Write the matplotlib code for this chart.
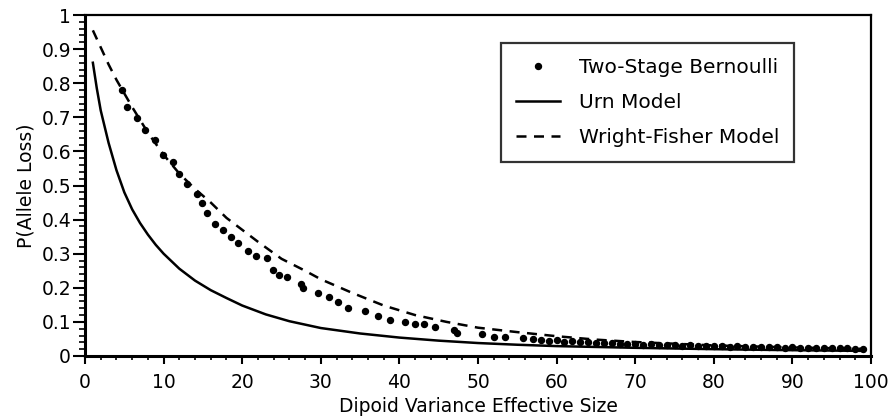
import matplotlib
matplotlib.use("Agg")
import matplotlib.pyplot as plt
from matplotlib.ticker import MultipleLocator

# Two-Stage Bernoulli simulation (dots)
bern_x = [4.7, 5.4, 6.6, 7.6, 8.9, 9.9, 11.2, 12.0, 13.0, 14.2, 14.9, 15.5, 16.6, 17.6,
          18.6, 19.5, 20.7, 21.8, 23.1, 23.9, 24.7, 25.7, 27.5, 27.7, 29.7, 31.0, 32.2,
          33.5, 35.6, 37.3, 38.8, 40.7, 42.0, 43.1, 44.5, 46.9, 47.3, 50.5, 52.0, 53.4,
          55.7, 57, 58, 59, 60, 61, 62, 63, 64, 65, 66, 67, 68, 69, 70, 71, 72, 73, 74,
          75, 76, 77, 78, 79, 80, 81, 82, 83, 84, 85, 86, 87, 88, 89, 90, 91, 92, 93,
          94, 95, 96, 97, 98, 99]
bern_y = [0.78, 0.73, 0.697, 0.663, 0.633, 0.59, 0.568, 0.533, 0.505, 0.475, 0.448, 0.42,
          0.387, 0.37, 0.348, 0.331, 0.309, 0.294, 0.286, 0.252, 0.238, 0.231, 0.212,
          0.198, 0.185, 0.174, 0.159, 0.141, 0.133, 0.117, 0.107, 0.100, 0.094, 0.093,
          0.084, 0.077, 0.068, 0.064, 0.057, 0.057, 0.053, 0.049, 0.047, 0.045, 0.046,
          0.042, 0.043, 0.040, 0.041, 0.038, 0.037, 0.039, 0.035, 0.036, 0.034, 0.033,
          0.034, 0.032, 0.031, 0.032, 0.030, 0.031, 0.029, 0.030, 0.028, 0.029, 0.027,
          0.028, 0.026, 0.027, 0.026, 0.025, 0.026, 0.024, 0.025, 0.024, 0.023, 0.024,
          0.022, 0.023, 0.022, 0.024, 0.021, 0.020]

# Urn model (solid)
urn_x = [1, 1.5, 2, 3, 4, 5, 6, 7, 8, 9, 10, 12, 14, 16, 18, 20, 23, 26, 30, 35, 40,
         45, 50, 55, 60, 70, 80, 90, 99]
urn_y = [0.86, 0.785, 0.72, 0.625, 0.545, 0.48, 0.43, 0.39, 0.356, 0.326, 0.30, 0.256,
         0.221, 0.193, 0.170, 0.148, 0.122, 0.102, 0.082, 0.066, 0.054, 0.045, 0.038,
         0.033, 0.029, 0.024, 0.020, 0.017, 0.015]

# Wright-Fisher model (dashed)
wf_x = [1, 2, 3, 4, 5, 6, 8, 10, 12, 14, 16, 18, 20, 22, 25, 28, 30, 34, 38, 42, 46,
        50, 55, 60, 65, 70, 80, 90, 99]
wf_y = [0.955, 0.905, 0.855, 0.81, 0.77, 0.73, 0.655, 0.59, 0.535, 0.49, 0.45, 0.405,
        0.37, 0.335, 0.285, 0.25, 0.225, 0.185, 0.148, 0.12, 0.10, 0.083, 0.07, 0.058,
        0.048, 0.041, 0.031, 0.025, 0.021]

fig = plt.figure(figsize=(8.92, 4.17), dpi=100)
ax = fig.add_axes([0.0953, 0.1463, 0.8812, 0.8177])

ax.plot(bern_x, bern_y, 'o', color='black', markersize=4.3, label='Two-Stage Bernoulli')
ax.plot(urn_x, urn_y, '-', color='black', lw=1.8, label='Urn Model')
ax.plot(wf_x, wf_y, '--', color='black', lw=1.8, dashes=(4, 3), label='Wright-Fisher Model')

ax.set_xlim(0, 100)
ax.set_ylim(0, 1)
ax.xaxis.set_major_locator(MultipleLocator(10))
ax.xaxis.set_minor_locator(MultipleLocator(2))
ax.yaxis.set_minor_locator(MultipleLocator(0.02))
ax.set_yticks([0, 0.1, 0.2, 0.3, 0.4, 0.5, 0.6, 0.7, 0.8, 0.9, 1])
ax.set_yticklabels(['0', '0.1', '0.2', '0.3', '0.4', '0.5', '0.6', '0.7', '0.8', '0.9', '1'])

ax.tick_params(axis='y', which='major', length=9, width=1.5, pad=1, labelsize=13.5)
ax.tick_params(axis='y', which='minor', length=4, width=1.2)
ax.tick_params(axis='x', which='major', length=6, width=1.5, pad=6, labelsize=13.5)
ax.tick_params(axis='x', which='minor', length=3, width=1.2)

for side in ['left', 'bottom']:
    ax.spines[side].set_linewidth(2.2)
for side in ['top', 'right']:
    ax.spines[side].set_linewidth(1.6)

ax.set_xlabel('Dipoid Variance Effective Size', fontsize=13.5, labelpad=4)
ax.set_ylabel('P(Allele Loss)', fontsize=13.5, labelpad=4)

leg = ax.legend(loc='upper right', bbox_to_anchor=(0.902, 0.918), borderaxespad=0,
                fontsize=14.5, frameon=True, fancybox=False, edgecolor='black',
                handlelength=2.2, handletextpad=0.9, borderpad=0.75, labelspacing=0.8,
                markerscale=1.0)
leg.get_frame().set_linewidth(1.6)

fig.savefig('out.png', dpi=100)
